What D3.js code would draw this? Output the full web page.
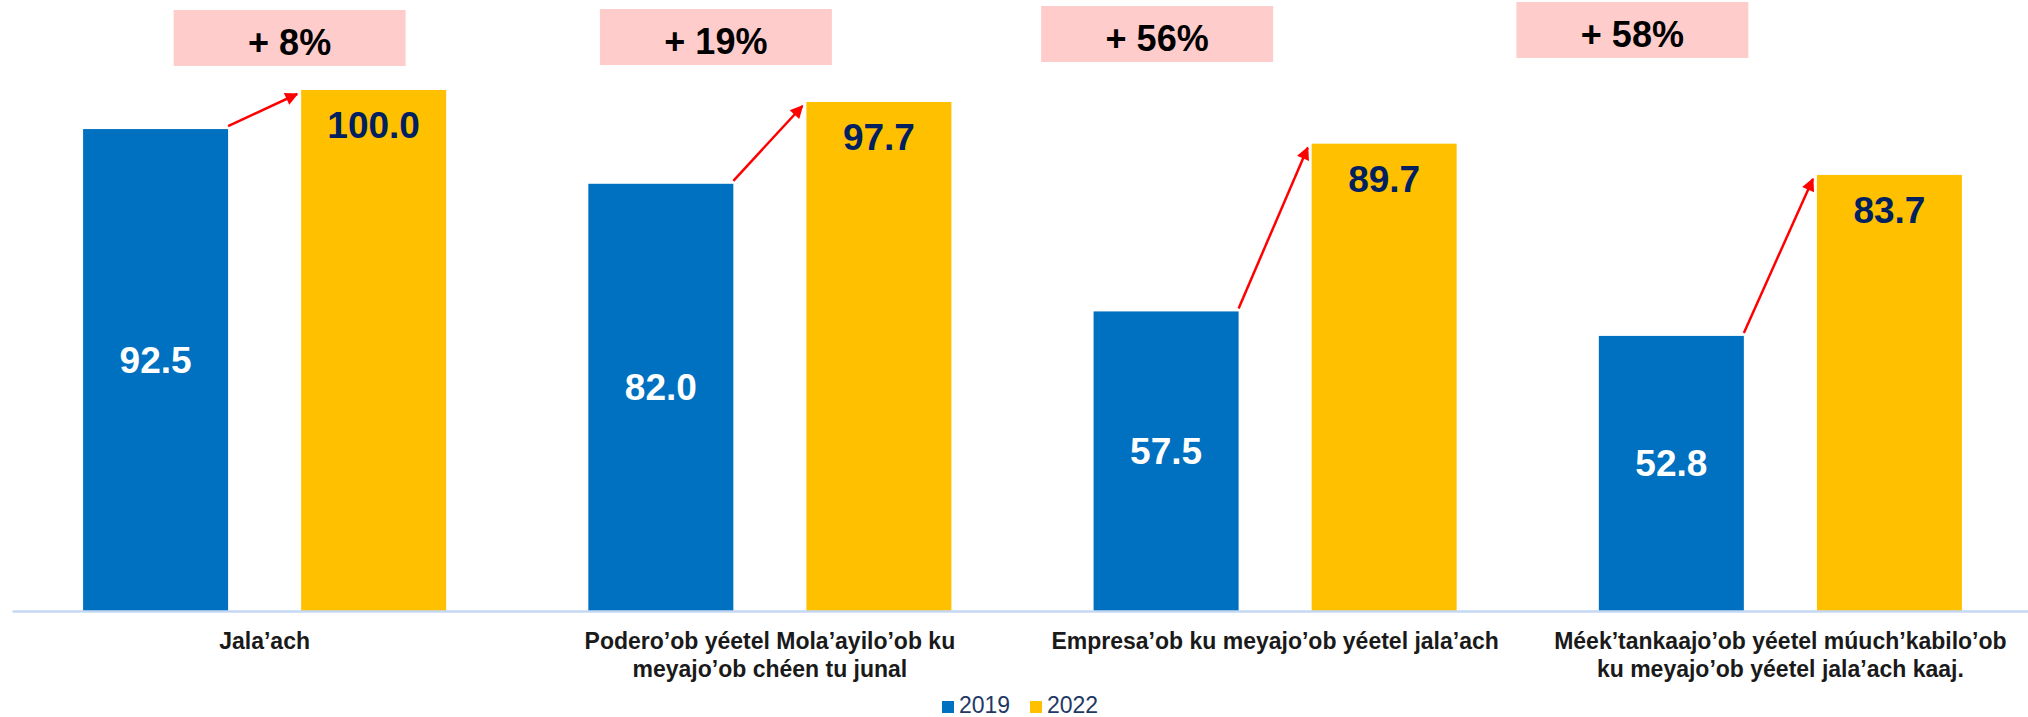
<!DOCTYPE html>
<html>
<head>
<meta charset="utf-8">
<script src="https://cdn.jsdelivr.net/npm/d3@7"></script>
<style>
  html, body { margin: 0; padding: 0; background: #fff; }
  svg { display: block; font-family: "Liberation Sans", Arial, sans-serif; }
</style>
</head>
<body>
<div id="chart"></div>
<script>
// data
const categories = [
  "Jala’ach",
  "Podero’ob yéetel Mola’ayilo’ob ku\nmeyajo’ob chéen tu junal",
  "Empresa’ob ku meyajo’ob yéetel jala’ach",
  "Méek’tankaajo’ob yéetel múuch’kabilo’ob\nku meyajo’ob yéetel jala’ach kaaj."
];
const series = ["2019", "2022"];
const values2019 = [92.5, 82.0, 57.5, 52.8];
const values2022 = [100.0, 97.7, 89.7, 83.7];
const growthLabels = ["+ 8%", "+ 19%", "+ 56%", "+ 58%"];

// layout
const width = 2028, height = 717;
const colors = { "2019": "#0070C0", "2022": "#FFC000" };
// where the pink growth boxes sit, relative to each group centre (hand placed in the original)
const boxShift = [25, -54, -118, -148];
const boxTop = [10, 9, 6, 2];

const rows = categories.map((c, i) => ({ cat: c, "2019": values2019[i], "2022": values2022[i], growth: growthLabels[i], i: i }));

const svg = d3.select("#chart").append("svg")
  .attr("width", width)
  .attr("height", height);

const x0 = d3.scaleBand()
  .domain(categories)
  .range([12, 2033]);

const x1 = d3.scaleBand()
  .domain(series)
  .range([0, x0.bandwidth()])
  .paddingInner(0.335)
  .paddingOuter(0.326);

const y = d3.scaleLinear()
  .domain([0, 100])
  .range([611, 90]);

svg.append("defs").append("marker")
  .attr("id", "head")
  .attr("viewBox", "0 0 10 10")
  .attr("refX", 9)
  .attr("refY", 5)
  .attr("markerUnits", "userSpaceOnUse")
  .attr("markerWidth", 15)
  .attr("markerHeight", 13)
  .attr("orient", "auto")
  .append("path")
    .attr("d", "M0,0 L10,5 L0,10 Z")
    .attr("fill", "#FF0000");

// bars
const groups = svg.selectAll(".group")
  .data(rows)
  .enter().append("g")
    .attr("class", "group")
    .attr("transform", d => "translate(" + x0(d.cat) + ",0)");

groups.selectAll("rect")
  .data(d => series.map(s => ({ key: s, value: d[s] })))
  .enter().append("rect")
    .attr("x", d => x1(d.key))
    .attr("y", d => y(d.value))
    .attr("width", x1.bandwidth())
    .attr("height", d => y(0) - y(d.value))
    .attr("fill", d => colors[d.key]);

// value labels
groups.append("text")
  .attr("x", x1("2019") + x1.bandwidth() / 2)
  .attr("y", d => (y(d["2019"]) + y(0)) / 2 - 10)
  .attr("dy", "0.35em")
  .attr("text-anchor", "middle")
  .attr("fill", "#fff")
  .attr("font-weight", "bold")
  .attr("font-size", 37)
  .text(d => d["2019"].toFixed(1));

groups.append("text")
  .attr("x", x1("2022") + x1.bandwidth() / 2)
  .attr("y", d => y(d["2022"]) + 48)
  .attr("text-anchor", "middle")
  .attr("fill", "#002060")
  .attr("font-weight", "bold")
  .attr("font-size", 37)
  .text(d => d["2022"].toFixed(1));

// arrows
groups.append("line")
  .attr("x1", x1("2019") + x1.bandwidth())
  .attr("y1", d => y(d["2019"]) - 3)
  .attr("x2", x1("2022") - 4)
  .attr("y2", d => y(d["2022"]) + 4)
  .attr("stroke", "#FF0000")
  .attr("stroke-width", 2.5)
  .attr("marker-end", "url(#head)");

// growth boxes
const boxW = 232, boxH = 56;
const box = groups.append("g")
  .attr("transform", d => "translate(" + (x0.bandwidth() / 2 + boxShift[d.i] - boxW / 2) + "," + boxTop[d.i] + ")");
box.append("rect")
  .attr("width", boxW)
  .attr("height", boxH)
  .attr("fill", "#FFCCCC");
box.append("text")
  .attr("x", boxW / 2)
  .attr("y", 45)
  .attr("text-anchor", "middle")
  .attr("font-weight", "bold")
  .attr("font-size", 36)
  .attr("fill", "#000")
  .text(d => d.growth);

// x axis
const xAxis = svg.append("g")
  .attr("transform", "translate(0," + y(0) + ")")
  .call(d3.axisBottom(x0).tickSize(0).tickFormat(""));
xAxis.select(".domain")
  .attr("stroke", "#C5D8F3")
  .attr("stroke-width", 2.5);

const catText = svg.selectAll(".cat")
  .data(categories)
  .enter().append("text")
    .attr("class", "cat")
    .attr("text-anchor", "middle")
    .attr("font-weight", "bold")
    .attr("font-size", 23)
    .attr("fill", "#1a1a1a");
catText.selectAll("tspan")
  .data(d => d.split("\n").map(t => ({ t: t, c: d })))
  .enter().append("tspan")
    .attr("x", d => x0(d.c) + x0.bandwidth() / 2)
    .attr("y", (d, i) => 649 + i * 28)
    .text(d => d.t);

// legend
const legend = svg.append("g")
  .attr("transform", "translate(942,701)");
const item = legend.selectAll(".item")
  .data(series)
  .enter().append("g")
    .attr("transform", (d, i) => "translate(" + i * 88 + ",0)");
item.append("rect")
  .attr("width", 12)
  .attr("height", 12)
  .attr("fill", d => colors[d]);
item.append("text")
  .attr("x", 17)
  .attr("y", 12)
  .attr("font-size", 23)
  .attr("fill", "#1F3864")
  .text(d => d);
</script>
</body>
</html>
